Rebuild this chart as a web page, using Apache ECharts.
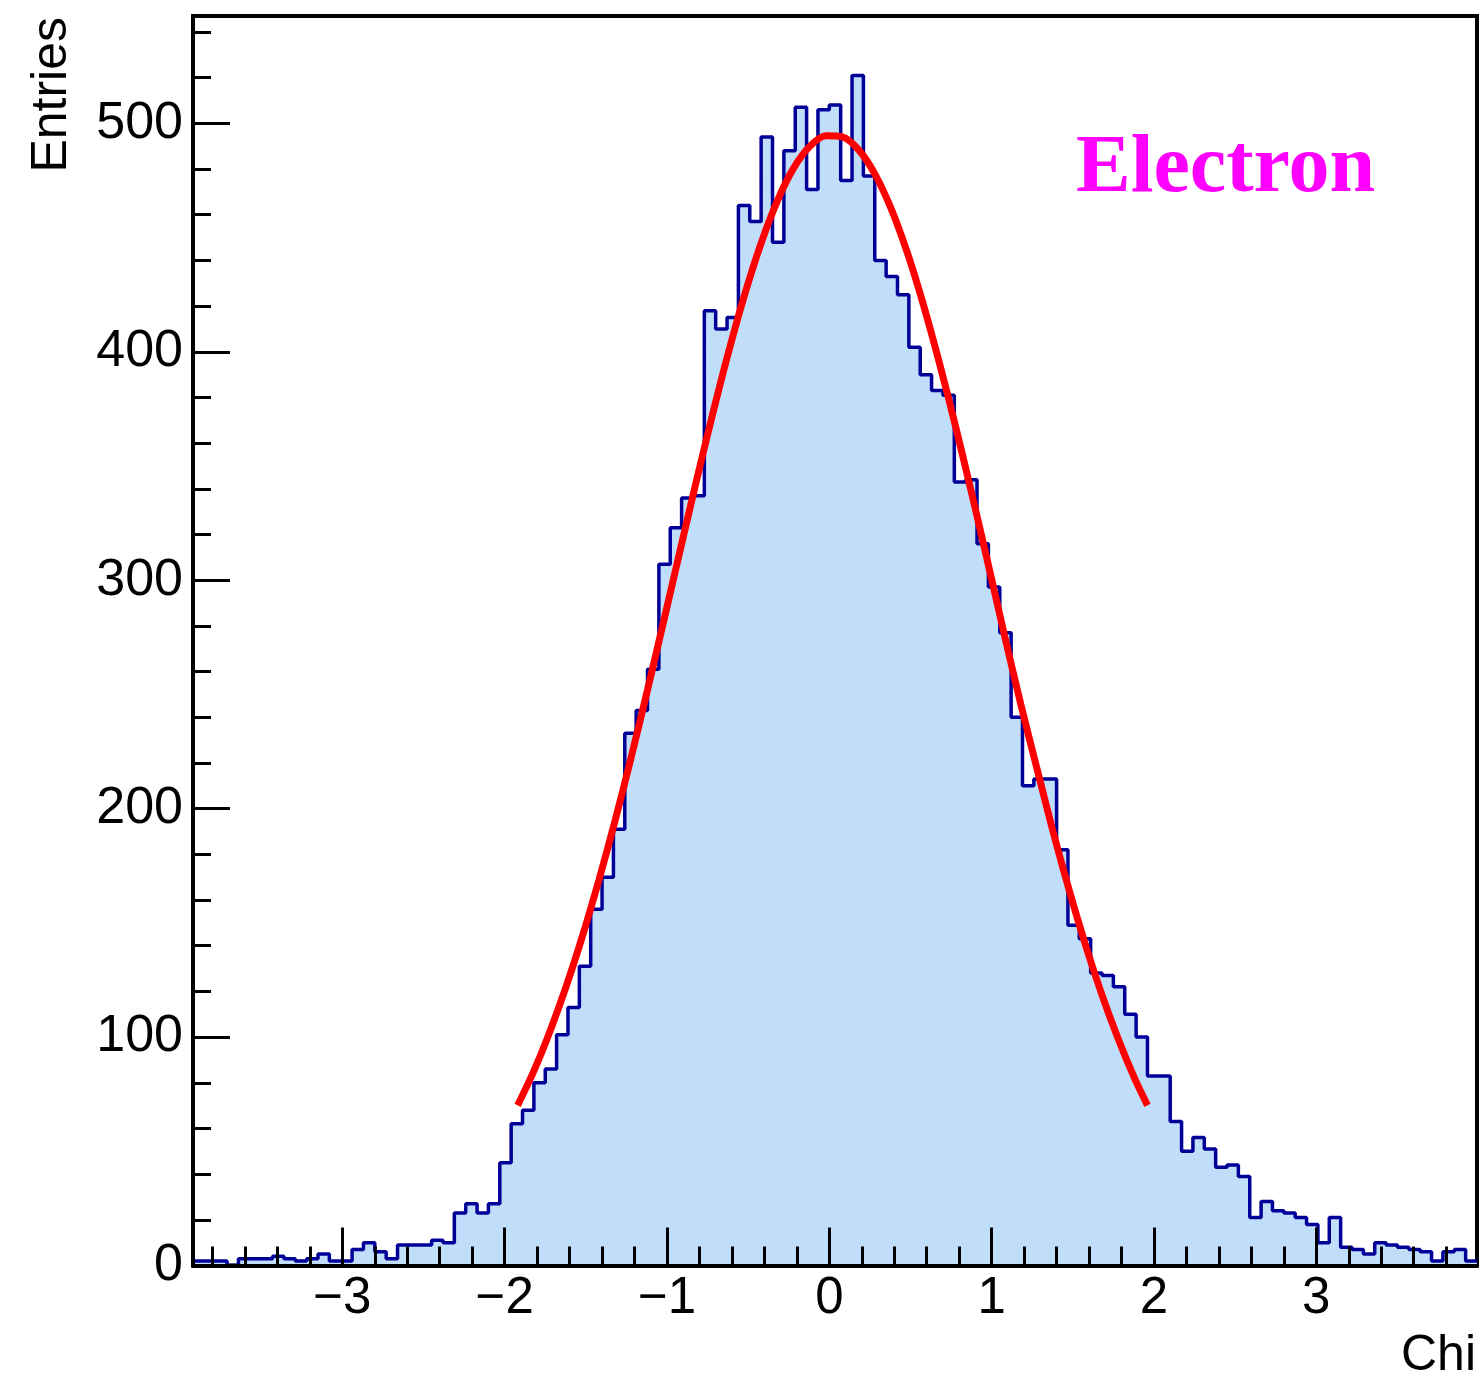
<!DOCTYPE html>
<html><head><meta charset="utf-8">
<script src="https://cdn.jsdelivr.net/npm/echarts@6/dist/echarts.min.js"></script>
<style>html,body{margin:0;padding:0;background:#fff}#c{width:1481px;height:1380px}</style>
</head><body><div id="c"></div>
<script>
// ---- data ----
const histMin = -3.92;
const binWidth = 0.07;
const binCounts = [
  2,2,2,0,3,3,3,4,3,2,
  3,5,2,2,7,10,6,3,9,9,
  9,11,10,23,27,23,27,45,62,68,
  80,86,101,113,131,156,170,191,233,243,
  261,307,323,336,337,418,410,415,464,457,
  494,448,488,507,471,506,508,475,521,477,
  440,433,425,402,390,383,381,343,344,316,
  297,277,240,210,213,213,182,149,143,128,
  127,122,110,100,83,83,63,50,56,51,
  43,44,39,21,28,24,23,21,18,10,
  21,8,7,5,10,9,8,7,6,2,
  6,7,2
];
const fitX = [-1.92,-1.82,-1.72,-1.62,-1.52,-1.42,-1.32,-1.22,-1.12,-1.02,-0.92,-0.82,-0.72,-0.62,-0.52,-0.42,-0.32,-0.22,-0.12,-0.02,
  0.08,0.18,0.28,0.38,0.48,0.58,0.68,0.78,0.88,0.98,1.08,1.18,1.28,1.38,1.48,1.58,1.68,1.78,1.88,1.96];
const fitY = [70.1,85.2,102.7,122.4,144.4,168.6,194.7,222.7,252.0,282.2,312.8,343.1,372.4,400.1,425.4,447.6,466.1,480.4,490.0,494.6,
  494.1,488.5,477.9,462.8,443.5,420.5,394.6,366.7,337.1,306.6,275.6,245.6,217.3,189.5,163.7,139.9,118.4,99.2,82.0,70.1];
const xMin = -3.92, xMax = 3.99;
const yMin = 0, yMax = 547;
const xTickValues = [-3,-2,-1,0,1,2,3];
const xTickLabels = ['\u22123','\u22122','\u22121','0','1','2','3'];
const xMinorTicks = [-3.8,-3.6,-3.4,-3.2,-2.8,-2.6,-2.4,-2.2,-1.8,-1.6,-1.4,-1.2,-0.8,-0.6,-0.4,-0.2,
  0.2,0.4,0.6,0.8,1.2,1.4,1.6,1.8,2.2,2.4,2.6,2.8,3.2,3.4,3.6,3.8];
const yTickValues = [0,100,200,300,400,500];
const yTickLabels = ['0','100','200','300','400','500'];
const yMinorTicks = [20,40,60,80,120,140,160,180,220,240,260,280,320,340,360,380,420,440,460,480,520,540];
const xTitle = 'Chi';
const yTitle = 'Entries';
const legendText = 'Electron';

// ---- build ----
const histData = binCounts.map((v, i) => [+(histMin + i * binWidth).toFixed(4), v]);
histData.push([+(histMin + binCounts.length * binWidth).toFixed(4), binCounts[binCounts.length - 1]]);
const fitData = fitX.map((x, i) => [x, fitY[i]]);

const FONT = '"Liberation Sans", Arial, Helvetica, sans-serif';
const tickStyle = {color: '#000', width: 3};

const chart = echarts.init(document.getElementById('c'), null, {renderer: 'canvas'});
chart.setOption({
  animation: false,
  backgroundColor: '#fff',
  grid: {left: 193, right: 4, top: 16, bottom: 114.5, show: true, borderColor: '#000', borderWidth: 4,
         backgroundColor: 'transparent'},
  xAxis: [
    {type: 'value', min: xMin, max: xMax, position: 'bottom', z: 10,
     axisLine: {show: true, onZero: false, lineStyle: {color: '#000', width: 4}},
     axisTick: {show: true, inside: true, length: 38, customValues: xTickValues, lineStyle: tickStyle},
     axisLabel: {show: true, customValues: xTickValues, margin: 8, color: '#000', fontSize: 51, fontFamily: FONT,
                 formatter: v => xTickLabels[xTickValues.indexOf(v)]},
     splitLine: {show: false}},
    {type: 'value', min: xMin, max: xMax, position: 'bottom', z: 10,
     axisLine: {show: false, onZero: false},
     axisTick: {show: true, inside: true, length: 19, customValues: xMinorTicks, lineStyle: tickStyle},
     axisLabel: {show: false}, splitLine: {show: false}}
  ],
  yAxis: [
    {type: 'value', min: yMin, max: yMax, position: 'left', z: 10,
     axisLine: {show: true, onZero: false, lineStyle: {color: '#000', width: 4}},
     axisTick: {show: true, inside: true, length: 37, customValues: yTickValues, lineStyle: tickStyle},
     axisLabel: {show: true, customValues: yTickValues, margin: 10, color: '#000', fontSize: 52, fontFamily: FONT,
                 formatter: v => yTickLabels[yTickValues.indexOf(v)]},
     splitLine: {show: false}},
    {type: 'value', min: yMin, max: yMax, position: 'left', z: 10,
     axisLine: {show: false, onZero: false},
     axisTick: {show: true, inside: true, length: 18, customValues: yMinorTicks, lineStyle: tickStyle},
     axisLabel: {show: false}, splitLine: {show: false}}
  ],
  series: [
    {type: 'line', name: 'hist', step: 'end', data: histData, xAxisIndex: 0, yAxisIndex: 0,
     symbol: 'none', z: 2,
     lineStyle: {color: '#000099', width: 3.5},
     areaStyle: {color: '#c0ddfa', opacity: 1}},
    {type: 'line', name: 'fit', smooth: 0.3, data: fitData, xAxisIndex: 0, yAxisIndex: 0,
     symbol: 'none', z: 3,
     lineStyle: {color: '#ff0000', width: 7, cap: 'butt'}}
  ],
  graphic: [
    {type: 'text', x: 1076, y: 170, z: 20,
     style: {text: legendText, font: 'bold 82px "Liberation Serif", "Times New Roman", serif', fill: '#ff00ff',
             textAlign: 'left', textVerticalAlign: 'middle'}},
    {type: 'text', x: 52, y: 17, rotation: Math.PI / 2, z: 20,
     style: {text: yTitle, font: '50px ' + FONT, fill: '#000', textAlign: 'right', textVerticalAlign: 'middle'}},
    {type: 'text', x: 1476, y: 1356, z: 20,
     style: {text: xTitle, font: '50px ' + FONT, fill: '#000', textAlign: 'right', textVerticalAlign: 'middle'}}
  ]
});
</script>
</body></html>
